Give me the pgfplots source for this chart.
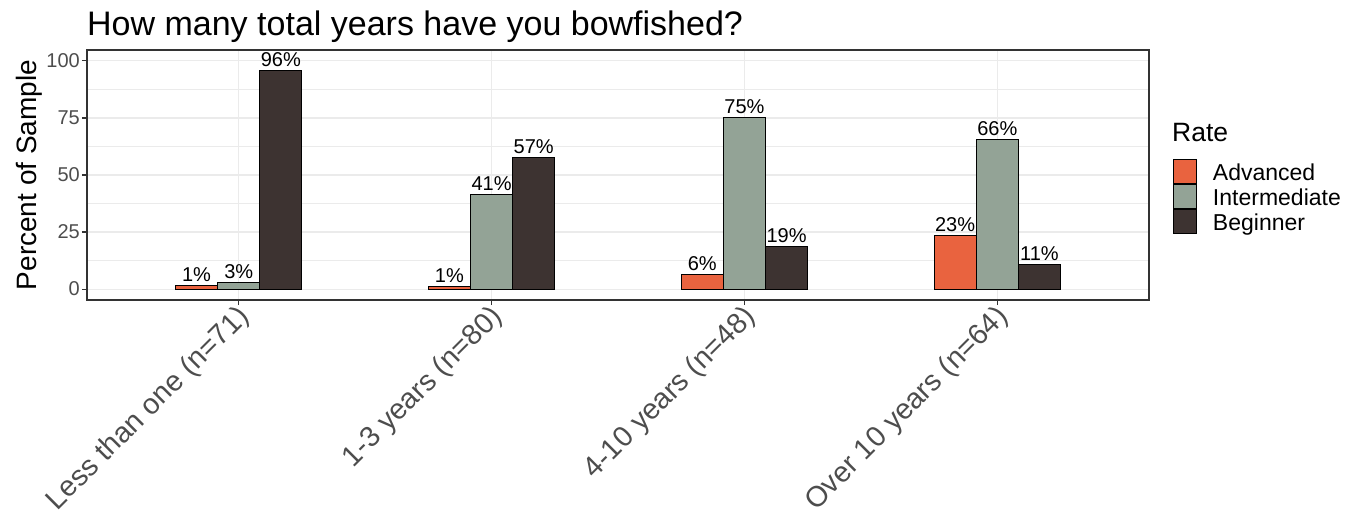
\documentclass[border=0pt]{standalone}
\usepackage{pgfplots}
\usepackage{pgfplotstable}
\pgfplotsset{compat=1.18}
\usepackage{fontspec}
\setmainfont{Liberation Sans}
\definecolor{adv}{HTML}{E9633F}
\definecolor{inter}{HTML}{93A396}
\definecolor{beg}{HTML}{3D3331}
\definecolor{grid92}{HTML}{EBEBEB}
\definecolor{grey20}{HTML}{333333}
\definecolor{grey30}{HTML}{4D4D4D}

\pgfplotstableread{
x y label
1 1.4 1
2 1.25 1
3 6.25 6
4 23.4 23
}\advanced
\pgfplotstableread{
x y label
1 2.8 3
2 41.25 41
3 75 75
4 65.6 66
}\intermediate
\pgfplotstableread{
x y label
1 95.8 96
2 57.5 57
3 18.75 19
4 10.9 11
}\beginner

\begin{document}
\begin{tikzpicture}
\useasboundingbox (-87pt,-214pt) rectangle (1270pt,300pt);
\begin{axis}[
  at={(0pt,0pt)}, anchor=south west,
  scale only axis, width=1062pt, height=250pt,
  ybar,
  xmin=0.4, xmax=4.6, ymin=-4.8, ymax=104.8,
  xtick={1,2,3,4},
  xticklabels={Less than one (n=71),1-3 years (n=80),4-10 years (n=48),Over 10 years (n=64)},
  ytick={0,25,50,75,100},
  minor ytick={12.5,37.5,62.5,87.5},
  xmajorgrids, ymajorgrids, yminorgrids,
  major grid style={grid92, line width=1.1pt},
  minor grid style={grid92, line width=0.55pt},
  tick align=outside, tick pos=left,
  major tick length=5pt, minor tick length=0pt,
  tick style={grey20, line width=1.1pt},
  axis line style={grey20, line width=1.1pt},
  /pgf/number format/assume math mode=true,
  yticklabel style={font=\fontsize{20}{24}\selectfont, text=grey30, inner sep=0pt, anchor=east, xshift=-2pt},
  xticklabel style={font=\fontsize{28.8}{33}\selectfont, text=grey30, inner sep=0pt, xshift=-3pt, yshift=2pt, rotate=45, anchor=north east},
  ylabel={Percent of Sample},
  ylabel style={at={(axis description cs:-0.048,0.5)}, anchor=base, rotate=0, font=\fontsize{28}{32}\selectfont},
  bar width=0.1667,
  point meta=explicit symbolic,
  nodes near coords={\pgfplotspointmeta\%},
  every node near coord/.append style={font=\fontsize{20}{24}\selectfont, text=black, anchor=base, inner sep=0pt, yshift=4pt},
  legend style={at={(axis description cs:1.0226,0.564)}, anchor=north west, draw=none, fill=none,
    inner sep=0pt, outer sep=0pt, row sep=0pt, column sep=16pt,
    font=\fontsize{23}{27}\selectfont, cells={anchor=west},
    nodes={inner sep=0pt, text height=17pt, text depth=0pt}},
  barlegend/.style={legend image code/.code={\draw[##1, draw=black, line width=1pt] (0pt,-12pt) rectangle (23pt,12pt);}},
]
\addplot[fill=adv, draw=black, line width=1pt, bar shift=-0.1667, barlegend] table[x=x, y=y, meta=label] {\advanced};
\addlegendentry{Advanced}
\addplot[fill=inter, draw=black, line width=1pt, bar shift=0, barlegend] table[x=x, y=y, meta=label] {\intermediate};
\addlegendentry{Intermediate}
\addplot[fill=beg, draw=black, line width=1pt, bar shift=0.1667, barlegend] table[x=x, y=y, meta=label] {\beginner};
\addlegendentry{Beginner}
\end{axis}
\node[anchor=base west, font=\fontsize{34}{40}\selectfont, inner sep=0pt] at (0pt,264pt) {How many total years have you bowfished?};
\node[anchor=base west, font=\fontsize{26.5}{30}\selectfont, inner sep=0pt] at (1085pt,158.3pt) {Rate};
\end{tikzpicture}
\end{document}
